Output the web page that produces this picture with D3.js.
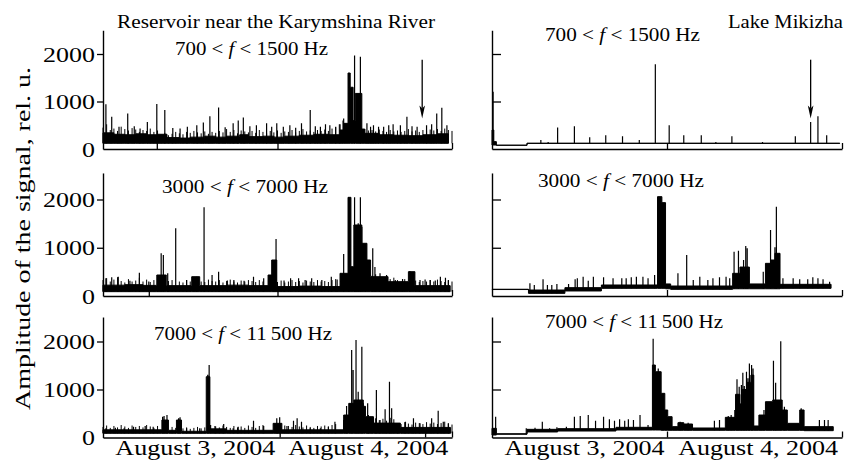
<!DOCTYPE html>
<html><head><meta charset="utf-8">
<script src="https://cdn.jsdelivr.net/npm/d3@7"></script>
<style>
body{margin:0;background:#fff}
svg{display:block;font-family:"Liberation Serif","Times New Roman",serif}
text{font-family:"Liberation Serif","Times New Roman",serif;fill:#000}
</style>
</head><body>
<svg id="c" width="846" height="471"></svg>
<script>
// ---------------- DATA (hours from 00:00 Aug 3, 2004; amplitude in rel. u.) ----------------
const timeDomain = [0, 48];
const yTickValues = [0, 1000, 2000];
const dateLabels = ["August 3, 2004", "August 4, 2004"];
const dateCenters = [12.7, 36.5];
const yTitle = "Amplitude of the signal, rel. u.";
const siteTitles = ["Reservoir near the Karymshina River", "Lake Mikizha"];
const bandLabels = [["700 < ", "f", " < 1500 Hz"], ["3000 < ", "f", " < 7000 Hz"], ["7000 < ", "f", " < 11\u2009500 Hz"]];

// background band [t, low, high]
const bandA = [[0,120,340],[1.5,120,310],[3,120,300],[4.5,120,320],[6,120,300],[7.5,120,310],[8.8,120,240],[10.5,120,230],[12,120,250],[14,120,270],[15.5,120,250],[17,120,270],[18.8,120,300],[20,120,260],[22,120,270],[23.5,120,250],[25,120,270],[27,120,290],[29,120,310],[31,120,300],[32.6,120,400],[33.1,120,540],[33.7,120,1600],[34.0,120,1300],[34.4,120,600],[34.7,120,1170],[35.6,120,420],[36.0,120,330],[38,120,300],[40,120,290],[42,120,280],[44,120,300],[46,120,320],[47.5,120,320]];
const spikesA = [[0.4,940],[1.2,680],[2.2,470],[3.4,750],[4.3,480],[5.1,430],[6.1,570],[7.4,945],[8.5,820],[9.6,440],[10.6,430],[11.6,470],[12.9,500],[13.8,560],[14.7,690],[15.9,875],[16.8,460],[17.9,540],[18.6,600],[19.3,665],[20.2,480],[21.1,500],[22.5,540],[23.2,470],[23.9,540],[24.8,470],[25.7,500],[26.5,450],[27.3,540],[28.5,820],[29.2,480],[29.9,470],[30.6,520],[31.2,500],[32.0,470],[32.6,520],[33.1,640],[34.6,1970],[35.4,1940],[36.3,540],[36.8,470],[37.2,500],[37.9,470],[38.6,470],[39.3,500],[39.9,520],[40.9,500],[41.8,680],[42.5,480],[43.2,470],[44.5,500],[45.2,520],[45.9,750],[46.6,870],[47.3,500]];
// fine ripple every half hour from t = 0
const rippleA = [450,520,400,430,380,470,420,390,440,410,360, 400,380,430,360,390,300,340,290,320,360, 330,310,360,340,380,350,330,370,320,360, 340,380,350,420,360,400,330,390,370,350, 380,340,400,360,330,380,350,390,340,370, 360,400,350,380,420,370,390,360,400,380, 410,380,430,460,520,600,0,0,0,0, 450,420,390,400,370,410,380,360,400,370, 390,360,380,420,370,390,360,400,380,410, 390,420,380,430,400,380];

const bandB = [[0,84,400],[0.25,84,155],[0.6,78,80],[4.8,118,122],[47.7,118,122]];
const spikesB = [[0.15,1204],[6.7,190],[7.7,150],[9.0,455],[11.3,480],[13.4,245],[15.6,290],[17.9,270],[20.2,190],[22.4,1785],[24.3,500],[26.3,290],[28.7,290],[30.7,150],[32.9,270],[37.1,150],[41.6,270],[43.7,570],[44.7,690],[45.9,290]];
const rippleB = [];

const bandC = [[0,90,225],[3,90,235],[5.5,90,220],[7.4,90,435],[8.7,90,215],[12.2,90,400],[13.3,90,215],[17,90,225],[20,90,215],[22.7,90,435],[23.2,90,746],[23.9,90,195],[27,90,205],[30,90,195],[32.6,90,470],[33.7,90,2045],[34.1,90,608],[34.5,90,1472],[35.6,90,1092],[36.3,90,746],[36.8,90,400],[39.2,90,297],[42,90,504],[42.9,90,215],[47.75,90,215]];
const spikesC = [[0.4,366],[1.2,387],[2.1,401],[3.7,318],[5.0,484],[6.3,300],[8.0,885],[8.3,850],[8.9,470],[10.0,1403],[11.5,332],[12.9,401],[13.9,1838],[15.0,435],[15.9,504],[17.1,320],[18.0,332],[19.4,318],[20.7,401],[22.1,366],[23.5,746],[23.8,1182],[24.9,320],[25.8,366],[26.9,366],[27.8,330],[28.7,366],[30.1,332],[31.4,401],[32.2,340],[33.1,870],[33.8,2045],[34.6,2045],[34.8,1368],[35.1,1506],[35.4,2045],[35.6,1437],[36.1,1023],[37.1,988],[37.4,600],[38.1,470],[39.0,435],[40.2,332],[41.2,350],[42.2,518],[43.6,332],[44.3,340],[45.0,332],[45.7,320],[46.4,401],[47.1,380],[47.5,332]];
const rippleC = [330,370,300,340,390,310,280,350,300,320,380, 300,340,290,330,360,0,0,310,330,0, 300,280,330,300,360,0,300,290,340,310, 300,330,280,310,340,300,280,320,300,330, 310,290,330,300,0,0,0,290,320,280, 300,330,290,310,280,320,300,290,330,300, 310,290,330,350,0,0,0,0,0,0, 0,0,0,420,450,380,360,400,350,380, 330,300,350,0,0,320,290,310,300,330, 300,340,310,290,320,300];

const bandD = [[0,134,140],[5,55,124],[10,104,173],[15,159,228],[22.7,159,2059],[23.3,159,1935],[23.8,150,250],[24.5,138,207],[33,150,470],[34,150,600],[35.3,150,250],[37.5,150,677],[38.2,150,746],[38.8,150,885],[39.5,159,242],[46.5,159,242]];
const spikesD = [[5.2,262],[5.8,228],[7.0,346],[7.6,228],[8.2,228],[8.9,249],[10.5,249],[11.4,346],[11.7,366],[12.5,401],[13.2,318],[13.9,401],[15.3,387],[16.6,366],[17.8,366],[18.4,366],[19.1,387],[19.8,401],[20.7,401],[21.4,366],[22.3,435],[25.5,470],[26.7,850],[27.6,332],[28.5,401],[29.6,332],[30.3,366],[31.2,387],[32.1,401],[32.6,366],[33.2,918],[33.8,940],[34.5,746],[34.8,1037],[35.0,988],[37.2,504],[38.2,1368],[38.8,1009],[39.0,1852],[39.9,366],[41.3,366],[42.2,346],[43.3,346],[44.0,387],[44.7,366],[45.4,346],[46.3,297]];
const rippleD = [];

const bandE = [[0,87,160],[8.1,87,364],[9.0,87,150],[10.1,87,364],[10.8,87,130],[14.2,87,1266],[14.7,87,180],[17,87,150],[23.4,87,295],[24.6,87,160],[33.1,87,468],[33.8,87,711],[34.5,87,781],[35.8,87,650],[36.1,87,434],[37.2,87,300],[40.9,87,210],[47.8,87,210]];
const spikesE = [[0.4,191],[1.7,205],[2.9,191],[4.2,226],[5.8,240],[6.9,226],[8.2,434],[8.4,448],[8.8,469],[10.4,399],[10.6,420],[11.5,191],[13.3,191],[14.4,1305],[14.6,1510],[14.8,260],[15.4,240],[16.6,281],[17.9,191],[18.6,226],[20.7,350],[22.1,240],[23.9,399],[24.3,420],[25.3,240],[26.2,350],[26.7,399],[27.3,330],[28.5,191],[29.9,191],[31.0,226],[31.9,330],[33.1,364],[33.5,656],[34.2,1822],[34.4,1405],[34.8,2030],[35.1,951],[35.6,1891],[35.8,711],[36.4,711],[36.5,468],[37.2,399],[37.6,989],[38.1,364],[38.8,586],[39.4,1162],[39.7,607],[40.6,295],[41.6,330],[42.7,399],[43.6,295],[45.2,399],[46.1,559],[46.8,330],[47.5,295]];
const rippleE = [220,250,200,240,210,260,230,200,250,220,240, 210,260,230,200,240,0,0,0,220,200, 0,190,210,180,200,220,190,210,0,0, 230,210,250,220,200,240,210,230,200,250, 220,200,240,260,0,0,0,230,210,250, 240,220,260,230,210,250,220,200,240,230, 250,230,260,280,0,0,0,0,0,0, 0,0,420,380,400,360,390,350,410,380, 300,280,320,290,270,310,300,280,320,290, 310,280,300,330,290,270];

const bandF = [[0,52,191],[0.6,68,78],[4.8,115,170],[9,135,184],[17,156,212],[22,156,1510],[22.4,156,1370],[23.2,150,920],[23.7,150,573],[24.1,150,434],[24.7,150,226],[25.5,150,309],[26.3,150,281],[27.5,150,198],[32,150,420],[33.4,150,900],[34.0,150,700],[34.3,150,1000],[35.0,150,1150],[35.5,150,1300],[35.9,150,240],[36.6,150,468],[37.5,150,746],[38.5,150,781],[39.8,150,573],[40.5,150,295],[42.2,150,573],[42.8,142,226],[46.8,142,226]];
const spikesF = [[0.5,434],[4.7,191],[5.9,205],[6.9,330],[7.9,191],[8.9,212],[10.2,226],[11.3,434],[12.1,448],[13.2,468],[14.2,350],[15.3,434],[16.1,378],[16.8,350],[17.5,378],[18.2,350],[18.7,378],[19.4,364],[20.3,468],[21.4,260],[22.1,2055],[22.3,1510],[22.8,1440],[23.0,1370],[25.8,330],[26.9,309],[30.5,350],[31.2,364],[32.4,448],[32.8,468],[33.3,573],[33.6,1211],[33.9,1058],[34.2,1093],[34.4,1350],[34.6,1072],[34.9,1370],[35.1,1232],[35.3,1544],[35.6,1510],[35.8,1440],[36.9,468],[37.3,573],[38.6,1599],[38.9,1141],[39.6,2003],[40.1,642],[42.4,607],[44.9,364],[45.6,364],[46.1,364]];
const rippleF = [];

const ticksA = [7.4, 24, 48], ticksB = [24, 48], ticksC = [6.3, 24, 48], ticksD = [24, 48], ticksE = [24.3, 44.3, 48], ticksF = [24, 48];
// arrows: [t, from value, to value]
const arrowA = [43.9, 1880, 640];
const arrowB = [43.7, 1880, 640];
const rippleStep = 0.5; // hours between ripple samples

// ---------------- LAYOUT ----------------
const cols = [{x0:103, x1:452}, {x0:492, x1:842}];
const rows = [{y0:149, y2:54, top:2500}, {y0:296, y2:199.5, top:2550}, {y0:437.5, y2:341.5, top:2510}];
const panels = [
  {r:0,c:0,band:bandA,spikes:spikesA,ripple:rippleA,ticks:ticksA,arrow:arrowA,lab:{x:175,y:55,w:153}},
  {r:0,c:1,band:bandB,spikes:spikesB,ripple:rippleB,ticks:ticksB,arrow:arrowB,lab:{x:545,y:40.5,w:155}},
  {r:1,c:0,band:bandC,spikes:spikesC,ripple:rippleC,ticks:ticksC,lab:{x:162,y:193,w:166}},
  {r:1,c:1,band:bandD,spikes:spikesD,ripple:rippleD,ticks:ticksD,lab:{x:538,y:186.5,w:166}},
  {r:2,c:0,band:bandE,spikes:spikesE,ripple:rippleE,ticks:ticksE,lab:{x:154,y:340,w:178}},
  {r:2,c:1,band:bandF,spikes:spikesF,ripple:rippleF,ticks:ticksF,lab:{x:545,y:328,w:178}}
];
const SX = 1.18; // horizontal stretch of the original typeface
const FONT = '"Liberation Serif", "Times New Roman", serif';

const svg = d3.select("#c");

panels.forEach(p => {
  const row = rows[p.r], col = cols[p.c];
  const k = (row.y0 - row.y2) / 2000;
  const x = d3.scaleLinear().domain(timeDomain).range([col.x0, col.x1]);
  const y = d3.scaleLinear().domain([0, row.top]).range([row.y0, row.y0 - row.top * k]);
  const g = svg.append("g");

  // band
  g.append("path").datum(p.band)
    .attr("d", d3.area().x(d => x(d[0])).y0(d => y(d[1])).y1(d => y(d[2])).curve(d3.curveStepAfter))
    .attr("fill", "#000").attr("stroke", "#000").attr("stroke-width", 1).attr("stroke-linejoin", "miter");

  const bis = d3.bisector(d => d[0]).right;
  const loAt = t => p.band[Math.max(0, bis(p.band, t) - 1)][1];

  // ripple
  const rip = p.ripple.map((v, i) => [i * rippleStep, v]).filter(d => d[1] > 0);
  g.append("path")
    .attr("d", rip.map(([t, v]) => `M${x(t)},${y(loAt(t))}V${y(v)}`).join(""))
    .attr("fill", "none").attr("stroke", "#000").attr("stroke-width", 1);

  // spikes
  g.append("path")
    .attr("d", p.spikes.map(([t, v]) => `M${x(t)},${y(loAt(t))}V${y(v)}`).join(""))
    .attr("fill", "none").attr("stroke", "#000").attr("stroke-width", 1.2);

  // y axis
  const ya = g.append("g").attr("transform", `translate(${col.x0},0)`)
    .call(p.c === 0
      ? d3.axisLeft(y).tickValues(yTickValues).tickSize(6).tickSizeOuter(0).tickFormat(d3.format("d"))
      : d3.axisLeft(y).tickValues(yTickValues.filter(v => v > 0)).tickSize(-9).tickSizeOuter(0).tickFormat(""));
  ya.attr("font-family", FONT).attr("font-size", 22);
  ya.select(".domain").attr("stroke-width", 1.4);
  ya.selectAll(".tick line").attr("stroke-width", 1.3).filter(d => d === 0).remove();
  ya.selectAll(".tick text")
    .attr("x", -8 / SX).attr("transform", `scale(${SX},1)`)
    .style("font-size", "22px").style("font-family", FONT);

  // x axis
  const xa = g.append("g").attr("transform", `translate(0,${row.y0})`)
    .call(d3.axisBottom(x).tickValues(p.ticks).tickSize(-6).tickSizeOuter(0).tickFormat(""));
  xa.select(".domain").attr("stroke-width", 1.4);
  xa.selectAll(".tick line").attr("stroke-width", 1.3);

  // frequency label
  const t = g.append("text").attr("x", p.lab.x).attr("y", p.lab.y)
    .attr("textLength", p.lab.w).attr("lengthAdjust", "spacingAndGlyphs")
    .style("font-size", "19px").style("font-family", FONT);
  const parts = bandLabels[p.r];
  t.append("tspan").text(parts[0]);
  t.append("tspan").style("font-style", "italic").text(parts[1]);
  t.append("tspan").text(parts[2]);

  // arrow
  if (p.arrow) {
    const [at, v1, v2] = p.arrow;
    const ax = x(at), ay1 = y(v1), ay2 = y(v2);
    g.append("line").attr("x1", ax).attr("x2", ax).attr("y1", ay1).attr("y2", ay2 - 10)
      .attr("stroke", "#000").attr("stroke-width", 1.3);
    g.append("path").attr("d", `M${ax},${ay2}L${ax - 2.8},${ay2 - 13}L${ax},${ay2 - 10}L${ax + 2.8},${ay2 - 13}Z`)
      .attr("fill", "#000");
  }

  // date labels along bottom row
  if (p.r === 2) {
    dateLabels.forEach((s, i) => {
      const w = 160;
      svg.append("text").attr("x", x(dateCenters[i]) - w / 2).attr("y", 455)
        .attr("textLength", w).attr("lengthAdjust", "spacingAndGlyphs")
        .style("font-size", "22px").style("font-family", FONT).text(s);
    });
  }
});

// site titles
svg.append("text").attr("x", 117).attr("y", 28).attr("textLength", 318).attr("lengthAdjust", "spacingAndGlyphs")
  .style("font-size", "19px").style("font-family", FONT).text(siteTitles[0]);
svg.append("text").attr("x", 728).attr("y", 28).attr("textLength", 115).attr("lengthAdjust", "spacingAndGlyphs")
  .style("font-size", "19px").style("font-family", FONT).text(siteTitles[1]);

// y title
svg.append("text").attr("transform", "translate(30,410) rotate(-90)")
  .attr("textLength", 343).attr("lengthAdjust", "spacingAndGlyphs")
  .style("font-size", "22px").style("font-family", FONT).text(yTitle);
</script>
</body></html>
